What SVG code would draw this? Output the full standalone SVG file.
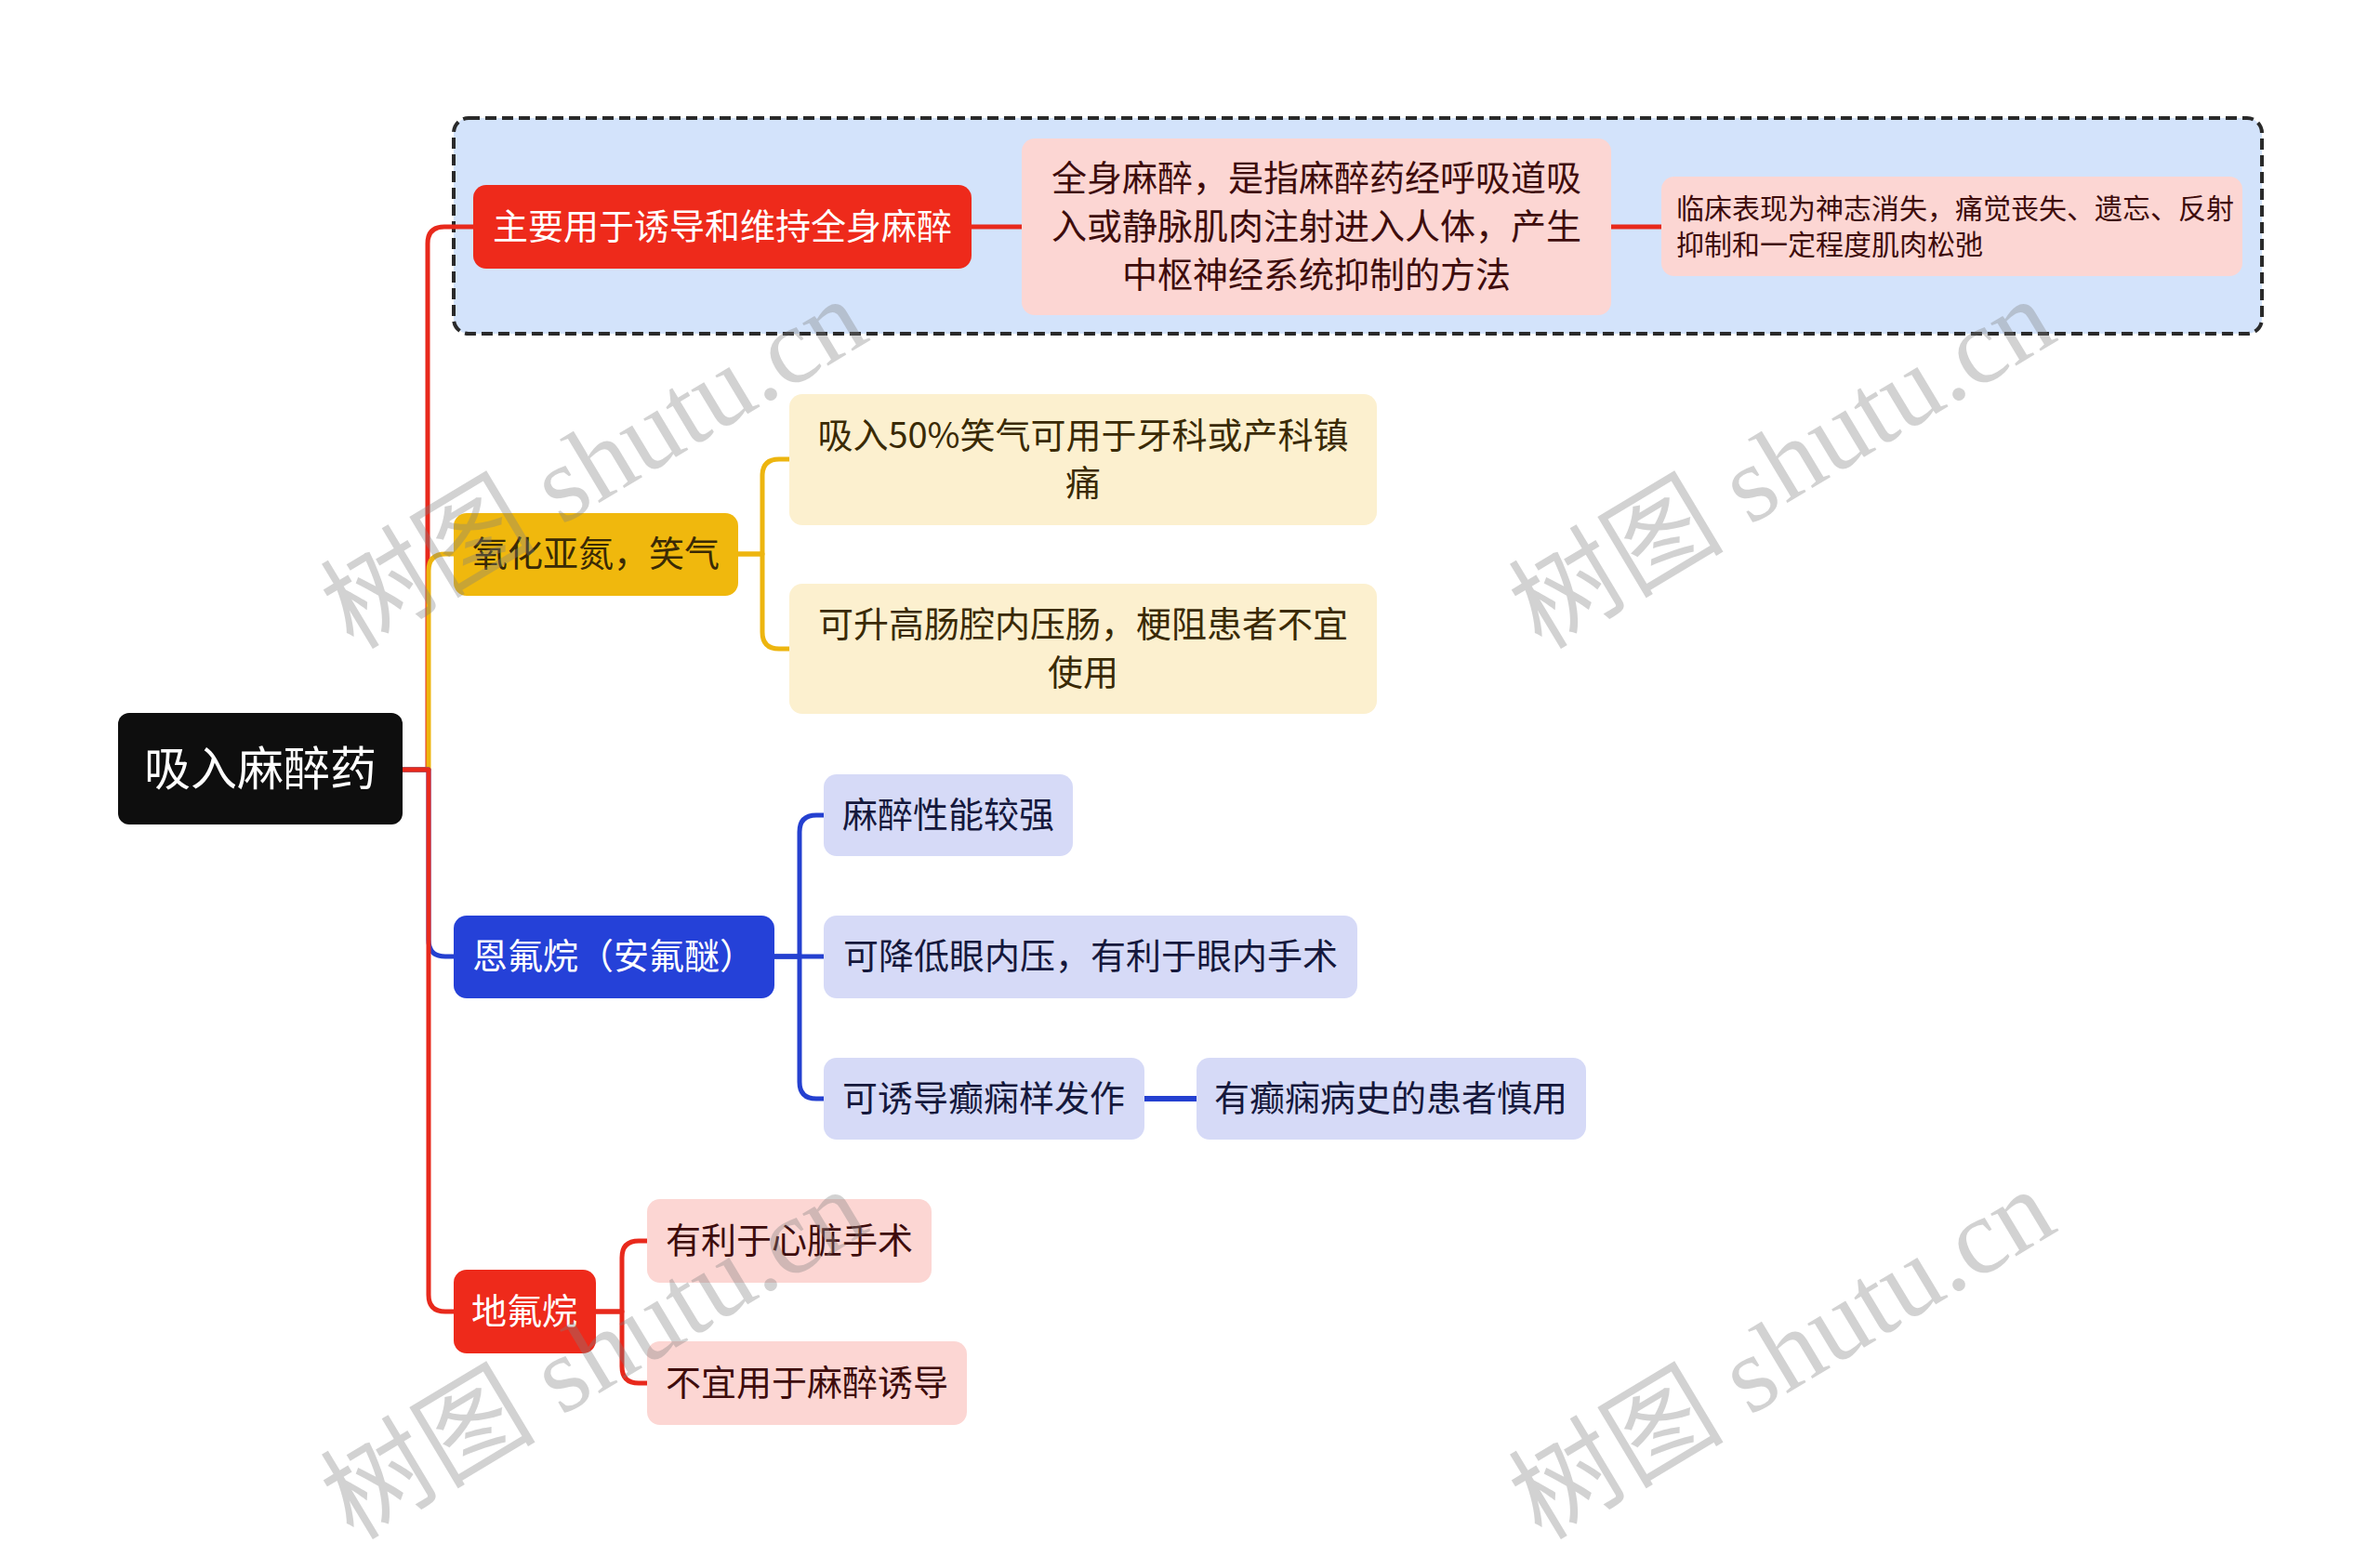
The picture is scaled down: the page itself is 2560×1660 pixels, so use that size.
<svg xmlns="http://www.w3.org/2000/svg" width="2560" height="1660" viewBox="0 0 2560 1660">
<style>
text{font-family:"Noto Sans CJK SC","Noto Sans",sans-serif;dominant-baseline:central;text-anchor:middle}
.t38{font-size:38px}
.t30{font-size:30px;text-anchor:start}
.w{fill:#ffffff}
.red{fill:#EE2A1B}
.pink{fill:#FCD6D3}
.pinkT{fill:#3E0C0C}
.yel{fill:#F0B80D}
.cream{fill:#FCF0CF}
.yelT{fill:#3A2A05}
.blue{fill:#2541D8}
.lav{fill:#D6DAF7}
.lavT{fill:#15183C}
.c{fill:none;stroke-width:5;stroke-linecap:round;stroke-linejoin:round}
.cr{stroke:#E8291C}
.cy{stroke:#EDB50F}
.cb{stroke:#2440D0}
.wm{font-family:"Liberation Serif","Noto Sans CJK SC",serif;font-size:116px;fill:#808080;opacity:0.35;text-anchor:start;dominant-baseline:alphabetic}
</style>
<rect width="2560" height="1660" fill="#ffffff"/>
<g id="summary-box">
<rect x="488" y="127" width="1945" height="232" rx="16" fill="#D3E3FB" stroke="#2a2a2a" stroke-width="4" stroke-dasharray="12 6"/>
</g>
<g id="connectors">
<path class="c cr" d="M433,828 H460 V262 Q460,244 478,244 H509"/>
<path class="c cy" d="M433,828 H461 V614 Q461,596 479,596 H488"/>
<path class="c cb" d="M433,828 H461 V1011 Q461,1029 479,1029 H488"/>
<path class="c cr" d="M433,828 H461 V1393 Q461,1411 479,1411 H488"/>
<path class="c cr" d="M1045,244 H1099"/>
<path class="c cr" d="M1733,244 H1787"/>
<path class="c cy" d="M794,596 H820 V512 Q820,494 838,494 H849"/>
<path class="c cy" d="M794,596 H820 V680 Q820,698 838,698 H849"/>
<path class="c cb" d="M833,1029 H860 V895 Q860,877 878,877 H886"/>
<path class="c cb" d="M833,1029 H886"/>
<path class="c cb" d="M833,1029 H860 V1164 Q860,1182 878,1182 H886"/>
<path class="c cb" d="M1231,1182 H1287" style="stroke-width:6"/>
<path class="c cr" d="M640,1411 H669 V1353 Q669,1335 687,1335 H696"/>
<path class="c cr" d="M640,1411 H669 V1470 Q669,1488 687,1488 H696"/>
</g>
<g id="root">
<rect x="127" y="767" width="306" height="120" rx="12" fill="#0E0E0E"/>
<text x="280" y="823" class="w" style="font-size:50px">吸入麻醉药</text>
</g>
<g id="n-main">
<rect x="509" y="199" width="536" height="90" rx="14" class="red"/>
<text x="777" y="240" class="t38 w">主要用于诱导和维持全身麻醉</text>
</g>
<g id="n-general">
<rect x="1099" y="149" width="634" height="190" rx="14" class="pink"/>
<text x="1416" y="188" class="t38 pinkT">全身麻醉，是指麻醉药经呼吸道吸</text>
<text x="1416" y="240" class="t38 pinkT">入或静脉肌肉注射进入人体，产生</text>
<text x="1416" y="292" class="t38 pinkT">中枢神经系统抑制的方法</text>
</g>
<g id="n-clinical">
<rect x="1787" y="190" width="625" height="107" rx="14" class="pink"/>
<text x="1803" y="222" class="t30 pinkT">临床表现为神志消失，痛觉丧失、遗忘、反射</text>
<text x="1803" y="261" class="t30 pinkT">抑制和一定程度肌肉松弛</text>
</g>
<g id="n-n2o">
<rect x="488" y="552" width="306" height="89" rx="14" class="yel"/>
<text x="641" y="592" class="t38 yelT">氧化亚氮，笑气</text>
</g>
<g id="n-n2o-1">
<rect x="849" y="424" width="632" height="141" rx="14" class="cream"/>
<text x="1165" y="465" class="t38 yelT">吸入50%笑气可用于牙科或产科镇</text>
<text x="1165" y="516" class="t38 yelT">痛</text>
</g>
<g id="n-n2o-2">
<rect x="849" y="628" width="632" height="140" rx="14" class="cream"/>
<text x="1165" y="668" class="t38 yelT">可升高肠腔内压肠，梗阻患者不宜</text>
<text x="1165" y="720" class="t38 yelT">使用</text>
</g>
<g id="n-enflurane">
<rect x="488" y="985" width="345" height="89" rx="14" class="blue"/>
<text x="660" y="1025" class="t38 w">恩氟烷（安氟醚）</text>
</g>
<g id="n-enf-1">
<rect x="886" y="833" width="268" height="88" rx="14" class="lav"/>
<text x="1020" y="873" class="t38 lavT">麻醉性能较强</text>
</g>
<g id="n-enf-2">
<rect x="886" y="985" width="574" height="89" rx="14" class="lav"/>
<text x="1173" y="1025" class="t38 lavT">可降低眼内压，有利于眼内手术</text>
</g>
<g id="n-enf-3">
<rect x="886" y="1138" width="345" height="88" rx="14" class="lav"/>
<text x="1058" y="1178" class="t38 lavT">可诱导癫痫样发作</text>
</g>
<g id="n-enf-3-1">
<rect x="1287" y="1138" width="419" height="88" rx="14" class="lav"/>
<text x="1496" y="1178" class="t38 lavT">有癫痫病史的患者慎用</text>
</g>
<g id="n-desflurane">
<rect x="488" y="1366" width="153" height="90" rx="14" class="red"/>
<text x="564" y="1407" class="t38 w">地氟烷</text>
</g>
<g id="n-des-1">
<rect x="696" y="1290" width="306" height="90" rx="14" class="pink"/>
<text x="849" y="1331" class="t38 pinkT">有利于心脏手术</text>
</g>
<g id="n-des-2">
<rect x="696" y="1443" width="344" height="90" rx="14" class="pink"/>
<text x="868" y="1484" class="t38 pinkT">不宜用于麻醉诱导</text>
</g>
<g id="watermarks">
<text class="wm" transform="translate(380,700) rotate(-31)">树图 shutu.cn</text>
<text class="wm" transform="translate(1658,700) rotate(-31)">树图 shutu.cn</text>
<text class="wm" transform="translate(380,1658) rotate(-31)">树图 shutu.cn</text>
<text class="wm" transform="translate(1658,1658) rotate(-31)">树图 shutu.cn</text>
</g>
</svg>
